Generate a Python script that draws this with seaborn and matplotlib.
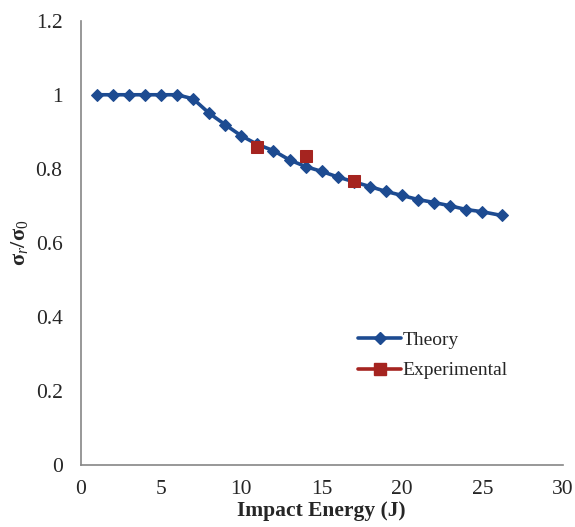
import matplotlib
matplotlib.use("Agg")
import matplotlib.pyplot as plt
import seaborn as sns
import pandas as pd
from matplotlib.lines import Line2D

theory_x = [1, 2, 3, 4, 5, 6, 7, 8, 9, 10, 11, 12, 13, 14, 15, 16, 17, 18, 19, 20, 21, 22, 23, 24, 25, 26.2]
theory_y = [1.0, 1.0, 1.0, 1.0, 1.0, 1.0, 0.989, 0.950, 0.919, 0.889, 0.866, 0.849, 0.824, 0.806, 0.793, 0.778, 0.765,
            0.752, 0.739, 0.728, 0.717, 0.709, 0.700, 0.690, 0.684, 0.674]
exp_x = [11, 14, 17]
exp_y = [0.860, 0.835, 0.766]

x_ticks = [0, 5, 10, 15, 20, 25, 30]
y_ticks = [0, 0.2, 0.4, 0.6, 0.8, 1.0, 1.2]
y_tick_labels = ["0", "0.2", "0.4", "0.6", "0.8", "1", "1.2"]

sns.set_style("white")
plt.rcParams["font.family"] = ["Liberation Serif", "DejaVu Serif"]
plt.rcParams["mathtext.fontset"] = "custom"
plt.rcParams["mathtext.rm"] = "Liberation Serif"
plt.rcParams["mathtext.it"] = "Liberation Serif:italic"
plt.rcParams["mathtext.bf"] = "Liberation Serif:bold"

df_t = pd.DataFrame({"x": theory_x, "y": theory_y})
df_e = pd.DataFrame({"x": exp_x, "y": exp_y})

fig = plt.figure(figsize=(5.75, 5.27), dpi=100)
ax = fig.add_axes([0.1403, 0.1176, 0.8383, 0.8431])

blue = "#1d4b91"
red = "#a52420"
sns.lineplot(data=df_t, x="x", y="y", ax=ax, color=blue, linewidth=2.6, marker="D",
             markersize=6.5, markeredgecolor=blue, legend=False)
sns.lineplot(data=df_e, x="x", y="y", ax=ax, color=red, linewidth=0, marker="s",
             markersize=9, markeredgecolor=red, legend=False)

ax.set_xlim(0, 30)
ax.set_ylim(0, 1.2)
ax.set_xticks(x_ticks)
ax.set_yticks(y_ticks)
ax.set_yticklabels(y_tick_labels)
ax.tick_params(axis="both", labelsize=15.5, direction="out", length=5, width=1, color="#868686")
ax.tick_params(axis="y", pad=8)
ax.tick_params(axis="x", pad=6)
for s in ["top", "right"]:
    ax.spines[s].set_visible(False)
for s in ["left", "bottom"]:
    ax.spines[s].set_color("#868686")
    ax.spines[s].set_linewidth(1.2)

ax.set_xlabel("Impact Energy (J)", fontsize=15.5, fontweight="bold", labelpad=1)
ax.set_ylabel(r"$\mathbf{\sigma}_{\mathit{r}}\mathbf{/\sigma}_{\mathit{0}}$", fontsize=16, labelpad=4)

handles = [Line2D([], [], color=blue, lw=2.6, marker="D", markersize=6, markeredgecolor=blue),
           Line2D([], [], color=red, lw=2.6, marker="s", markersize=8, markeredgecolor=red)]
leg = ax.legend(handles, ["Theory", "Experimental"], loc="upper left", bbox_to_anchor=(0.54, 0.34),
                frameon=False, fontsize=14, handlelength=2.2, handletextpad=0.05, labelspacing=0.65)

fig.savefig("out.png", dpi=100)
